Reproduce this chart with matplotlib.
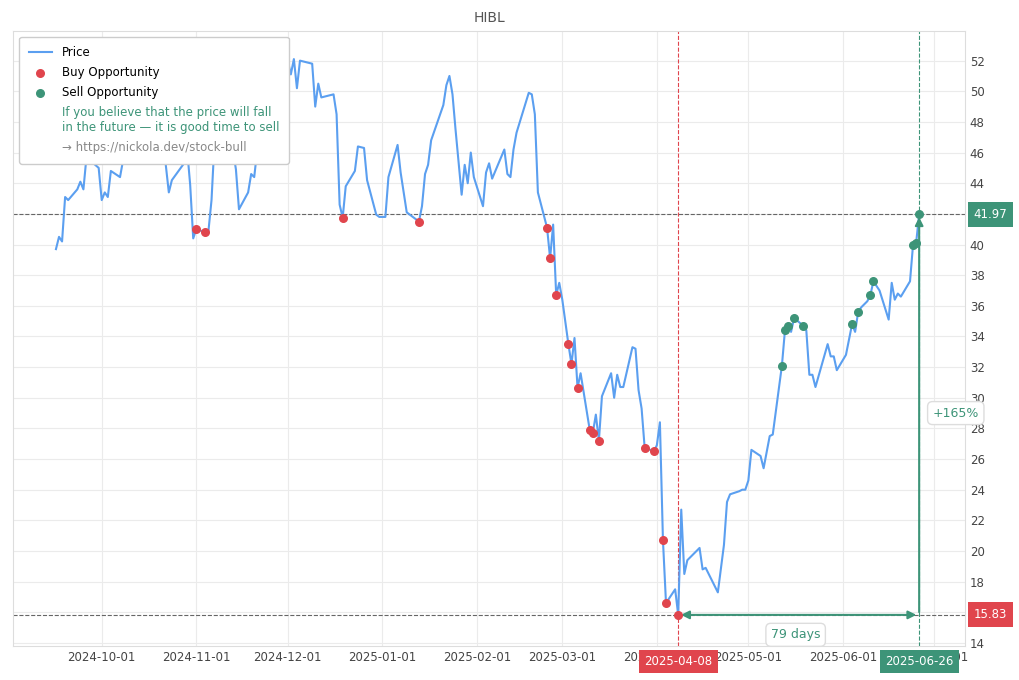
import matplotlib
matplotlib.use("Agg")
import matplotlib.pyplot as plt
import matplotlib.dates as mdates
import pandas as pd

dates = ["2024-09-16","2024-09-17","2024-09-18","2024-09-19","2024-09-20","2024-09-23","2024-09-24","2024-09-25","2024-09-26","2024-09-30",
"2024-10-01","2024-10-02","2024-10-03","2024-10-04","2024-10-07","2024-10-08","2024-10-09","2024-10-10","2024-10-11","2024-10-14",
"2024-10-15","2024-10-16","2024-10-17","2024-10-18","2024-10-20","2024-10-22","2024-10-23","2024-10-24","2024-10-28","2024-10-29",
"2024-10-30","2024-10-31","2024-11-01","2024-11-04","2024-11-05","2024-11-06","2024-11-07","2024-11-08","2024-11-10","2024-11-11",
"2024-11-13","2024-11-14","2024-11-15","2024-11-18","2024-11-19","2024-11-20","2024-11-21","2024-11-22","2024-11-25","2024-11-26",
"2024-11-27","2024-11-29","2024-11-30","2024-12-01","2024-12-02","2024-12-03","2024-12-04","2024-12-05","2024-12-09","2024-12-10",
"2024-12-11","2024-12-12","2024-12-16","2024-12-17","2024-12-18","2024-12-19","2024-12-20","2024-12-23","2024-12-24","2024-12-26",
"2024-12-27","2024-12-30","2024-12-31","2025-01-02","2025-01-03","2025-01-06","2025-01-07","2025-01-09","2025-01-13","2025-01-14",
"2025-01-15","2025-01-16","2025-01-17","2025-01-21","2025-01-22","2025-01-23","2025-01-24","2025-01-25","2025-01-27","2025-01-28",
"2025-01-29","2025-01-30","2025-01-31","2025-02-03","2025-02-04","2025-02-05","2025-02-06","2025-02-10","2025-02-11","2025-02-12",
"2025-02-13","2025-02-14","2025-02-18","2025-02-19","2025-02-20","2025-02-21","2025-02-24","2025-02-25","2025-02-26","2025-02-27",
"2025-02-28","2025-03-01","2025-03-03","2025-03-04","2025-03-05","2025-03-06","2025-03-07","2025-03-10","2025-03-11","2025-03-12",
"2025-03-13","2025-03-14","2025-03-17","2025-03-18","2025-03-19","2025-03-20","2025-03-21","2025-03-24","2025-03-25","2025-03-26",
"2025-03-27","2025-03-28","2025-03-31","2025-04-01","2025-04-02","2025-04-03","2025-04-04","2025-04-07","2025-04-08","2025-04-09",
"2025-04-10","2025-04-11","2025-04-15","2025-04-16","2025-04-17","2025-04-21","2025-04-23","2025-04-24","2025-04-25","2025-04-28",
"2025-04-29","2025-04-30","2025-05-01","2025-05-02","2025-05-05","2025-05-06","2025-05-08","2025-05-09","2025-05-12","2025-05-13",
"2025-05-14","2025-05-15","2025-05-16","2025-05-19","2025-05-20","2025-05-21","2025-05-22","2025-05-23","2025-05-27","2025-05-28",
"2025-05-29","2025-05-30","2025-06-02","2025-06-04","2025-06-05","2025-06-06","2025-06-07","2025-06-09","2025-06-10","2025-06-11",
"2025-06-13","2025-06-16","2025-06-17","2025-06-18","2025-06-19","2025-06-20","2025-06-23","2025-06-24","2025-06-25","2025-06-26"]
prices = [39.7,40.5,40.2,43.1,42.9,43.6,44.1,43.6,45.7,45.0,
42.9,43.4,43.1,44.8,44.4,45.5,47.5,48.5,48.0,49.5,
48.8,48.0,47.5,48.0,47.5,45.2,43.4,44.2,45.3,46.2,
43.9,40.4,41.0,40.8,40.9,42.9,46.8,49.5,48.5,46.8,
46.2,44.9,42.3,43.4,44.6,44.4,46.2,48.5,50.0,49.0,
50.5,51.0,51.7,52.0,51.1,52.1,50.2,52.0,51.8,49.0,
50.5,49.6,49.8,48.5,42.6,41.75,43.8,44.8,46.4,46.3,
44.2,41.95,41.8,41.8,44.4,46.5,44.7,42.1,41.5,42.5,
44.6,45.2,46.8,49.1,50.4,51.0,49.8,47.5,43.25,45.2,
44.0,46.0,44.4,42.5,44.7,45.3,44.3,46.2,44.6,44.4,
46.2,47.3,49.9,49.8,48.5,43.4,41.1,39.1,41.3,36.7,
37.5,36.4,33.5,32.2,33.9,30.65,31.6,27.9,27.7,28.9,
27.2,30.1,31.6,30.0,31.5,30.7,30.7,33.3,33.2,30.5,
29.3,26.75,26.5,26.9,28.4,20.7,16.6,17.5,15.83,22.7,
18.5,19.4,20.2,18.8,18.9,17.3,20.4,23.2,23.7,23.9,
24.0,24.0,24.6,26.6,26.2,25.4,27.5,27.6,32.1,34.4,
34.7,34.3,35.2,34.7,34.4,31.5,31.5,30.7,33.5,32.7,
32.7,31.8,32.8,34.8,34.3,35.6,35.9,36.3,36.7,37.6,
37.0,35.1,37.5,36.4,36.8,36.6,37.6,40.0,40.1,41.97]
buy_dates = ["2024-11-01","2024-11-04","2024-12-19","2025-01-13","2025-02-24","2025-02-25","2025-02-27","2025-03-03",
             "2025-03-04","2025-03-06","2025-03-10","2025-03-11","2025-03-13","2025-03-28","2025-03-31","2025-04-03",
             "2025-04-04","2025-04-08"]
sell_dates = ["2025-05-12","2025-05-13","2025-05-14","2025-05-16","2025-05-19","2025-06-04","2025-06-06","2025-06-10",
              "2025-06-11","2025-06-24","2025-06-25","2025-06-26"]
x_ticks = ["2024-10-01","2024-11-01","2024-12-01","2025-01-01","2025-02-01","2025-03-01","2025-04-01","2025-05-01","2025-06-01","2025-07-01"]
buy_date, buy_price = "2025-04-08", 15.83
sell_date, sell_price = "2025-06-26", 41.97
gain_label, days_label = "+165%", "79 days"

RED = "#e0454d"; GREEN = "#3d9478"; BLUE = "#5b9ff0"
d = pd.to_datetime(dates)
lookup = dict(zip(dates, prices))
bd = pd.to_datetime(buy_dates); bp = [lookup[x] for x in buy_dates]
sd = pd.to_datetime(sell_dates); sp = [lookup[x] for x in sell_dates]

plt.rcParams['font.family'] = ['DejaVu Sans']
fig = plt.figure(figsize=(10.2, 6.8), dpi=100)
ax = fig.add_axes([0.013, 0.05, 0.933, 0.905])
ax.set_facecolor("white")
ax.grid(True, color="#ebebeb", lw=0.8)
for s in ax.spines.values():
    s.set_color("#dddddd")
ax.plot(d, prices, color=BLUE, lw=1.5, label="Price", zorder=3)
ax.scatter(bd, bp, color=RED, s=30, zorder=4, label="Buy Opportunity")
ax.scatter(sd, sp, color=GREEN, s=30, zorder=4, label="Sell Opportunity")
ax.plot([], [], ' ', label="If you believe that the price will fall\nin the future — it is good time to sell")
ax.plot([], [], ' ', label="→ https://nickola.dev/stock-bull")

bdt = pd.Timestamp(buy_date); sdt = pd.Timestamp(sell_date)
ax.axhline(sell_price, color="#666666", ls="--", lw=0.8)
ax.axhline(buy_price, color="#666666", ls="--", lw=0.8)
ax.axvline(bdt, color=RED, ls="--", lw=0.8)
ax.axvline(sdt, color=GREEN, ls="--", lw=0.8)
ax.annotate("", xy=(sdt, sell_price), xytext=(sdt, buy_price),
            arrowprops=dict(arrowstyle="-|>", color=GREEN, lw=1.5, mutation_scale=12))
ax.annotate("", xy=(bdt, buy_price), xytext=(sdt, buy_price),
            arrowprops=dict(arrowstyle="<|-|>", color=GREEN, lw=1.5, mutation_scale=12))
ax.text(sdt + pd.Timedelta(days=12), (buy_price + sell_price) / 2 + 0.1, gain_label, color=GREEN, fontsize=9,
        ha="center", va="center", bbox=dict(boxstyle="round,pad=0.4", fc="white", ec="#dddddd"))
ax.text(bdt + (sdt - bdt) / 2 + pd.Timedelta(days=-1), buy_price - 1.3, days_label, color=GREEN, fontsize=9,
        ha="center", va="center", bbox=dict(boxstyle="round,pad=0.4", fc="white", ec="#dddddd"))

ax.set_xlim(pd.Timestamp("2024-09-02"), pd.Timestamp("2025-07-11"))
ax.set_ylim(13.8, 53.96)
ax.yaxis.tick_right()
ax.set_yticks(range(14, 53, 2))
ax.set_xticks(pd.to_datetime(x_ticks))
ax.xaxis.set_major_formatter(mdates.DateFormatter("%Y-%m-%d"))
ax.tick_params(colors="#444444", labelsize=8.5, length=0)
ax.set_title("HIBL", color="#555555", fontsize=10)

ax.text(1.009, sell_price, f"{sell_price:.2f}", transform=ax.get_yaxis_transform(), color="white", fontsize=8.5,
        va="center", ha="left", bbox=dict(boxstyle="square,pad=0.5", fc=GREEN, ec="none"))
ax.text(1.009, buy_price, f"{buy_price:.2f}", transform=ax.get_yaxis_transform(), color="white", fontsize=8.5,
        va="center", ha="left", bbox=dict(boxstyle="square,pad=0.5", fc=RED, ec="none"))
ax.text(bdt, -0.025, buy_date, transform=ax.get_xaxis_transform(), color="white", fontsize=8.5,
        va="center", ha="center", bbox=dict(boxstyle="square,pad=0.45", fc=RED, ec="none"))
ax.text(sdt, -0.025, sell_date, transform=ax.get_xaxis_transform(), color="white", fontsize=8.5,
        va="center", ha="center", bbox=dict(boxstyle="square,pad=0.45", fc=GREEN, ec="none"))

leg = ax.legend(loc="upper left", fontsize=8.5, frameon=True, framealpha=1, edgecolor="#cccccc", handlelength=2,
                borderpad=0.8, labelspacing=0.6)
txt = leg.get_texts()
txt[3].set_color(GREEN); txt[4].set_color("#888888")
fig.savefig("out.png", dpi=100, facecolor="white")
